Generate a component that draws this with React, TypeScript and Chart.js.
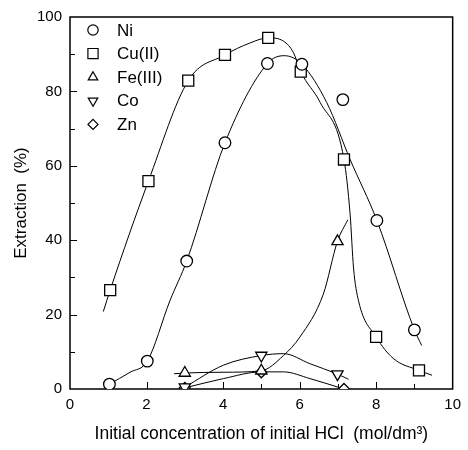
import React, { useEffect, useRef } from 'react';
import { Chart, registerables } from 'chart.js';
import { drawPoint } from 'chart.js/helpers';

Chart.register(...registerables);

const FONT = '"Liberation Sans", Arial, Helvetica, sans-serif';

// ---- data ----
const seriesNames = ['Ni', 'Cu(II)', 'Fe(III)', 'Co', 'Zn'];

const niX = [1.03, 2.02, 3.05, 4.05, 5.16, 6.06, 7.13, 8.02, 9.0];
const niY = [1.3, 7.5, 34.4, 66.2, 87.5, 87.3, 77.8, 45.3, 15.9];
const cuX = [1.05, 2.05, 3.09, 4.05, 5.18, 6.03, 7.16, 8.0, 9.12];
const cuY = [26.6, 55.9, 82.9, 89.8, 94.4, 85.3, 61.7, 14.0, 5.0];
const feX = [3.0, 5.0, 6.99];
const feY = [4.3, 4.9, 39.7];
const coX = [3.0, 5.0, 6.99];
const coY = [0.5, 9.0, 4.0];
const znX = [3.0, 5.0, 7.16];
const znY = [0.3, 4.5, 0.0];

// fitted curves
const niCurveX = [1.03, 1.57, 2.02, 2.61, 3.05, 4.05, 5.16, 5.6, 6.06, 6.71, 7.32, 8.02, 9.0, 9.19];
const niCurveY = [1.3, 4.5, 7.5, 23.7, 34.4, 66.2, 87.5, 89.6, 87.3, 77.0, 61.7, 45.3, 15.9, 11.7];
const cuCurveX = [0.87, 1.05, 2.05, 3.09, 4.05, 4.7, 5.18, 5.58, 5.84, 6.03, 6.54, 7.16, 7.32, 7.41, 7.54, 8.0, 8.45, 9.12, 9.46];
const cuCurveY = [20.8, 26.6, 55.9, 82.9, 89.8, 93.0, 94.4, 93.5, 90.4, 85.3, 77.0, 61.7, 47.0, 32.5, 23.7, 14.0, 8.2, 5.0, 3.7];
const feCurveX = [2.72, 3.0, 4.0, 5.0, 5.58, 6.01, 6.62, 6.99, 7.26];
const feCurveY = [4.1, 4.3, 4.5, 4.9, 9.0, 14.0, 25.5, 39.7, 45.5];
const coCurveX = [3.0, 4.01, 5.0, 5.58, 6.27, 6.99, 7.28];
const coCurveY = [0.5, 6.4, 9.0, 9.5, 6.8, 4.0, 2.6];
const znCurveX = [3.0, 4.01, 5.0, 5.58, 6.27, 7.16];
const znCurveY = [0.3, 2.8, 4.6, 4.6, 2.8, 0.0];

const xTickLabels = ['0', '2', '4', '6', '8', '10'];
const yTickLabels = ['0', '20', '40', '60', '80', '100'];

const xTitle = 'Initial concentration of initial HCl  (mol/dm\u00B3)';
const yTitle = 'Extraction  (%)';

const pts = (xs: number[], ys: number[]) => xs.map((x, i) => ({ x, y: ys[i] }));

const markerStyles = [
  { pointStyle: 'circle', radius: 5.8, rotation: 0 },
  { pointStyle: 'rect', radius: 7.8, rotation: 0 },
  { pointStyle: 'triangle', radius: 6.5, rotation: 0 },
  { pointStyle: 'triangle', radius: 6.5, rotation: 180 },
  { pointStyle: 'rectRot', radius: 5.5, rotation: 0 },
];
const legendStyles = [
  { pointStyle: 'circle', radius: 5.2, rotation: 0 },
  { pointStyle: 'rect', radius: 7.2, rotation: 0 },
  { pointStyle: 'triangle', radius: 5.5, rotation: 0 },
  { pointStyle: 'triangle', radius: 5.5, rotation: 180 },
  { pointStyle: 'rectRot', radius: 5, rotation: 0 },
];

const frameTicksPlugin = {
  id: 'frameTicks',
  beforeDatasetsDraw(chart: any) {
    const { ctx, chartArea, scales } = chart;
    const { left, right, top, bottom } = chartArea;
    ctx.save();
    ctx.strokeStyle = '#000';
    ctx.lineWidth = 1;
    ctx.beginPath();
    for (const t of scales.x.ticks) {
      if (t.value <= 0 || t.value >= 10) continue;
      const px = Math.round(scales.x.getPixelForValue(t.value)) + 0.5;
      const len = t.value % 2 === 0 ? 7 : 5;
      ctx.moveTo(px, bottom);
      ctx.lineTo(px, bottom - len);
    }
    for (const t of scales.y.ticks) {
      if (t.value <= 0 || t.value >= 100) continue;
      const py = Math.round(scales.y.getPixelForValue(t.value)) + 0.5;
      const len = t.value % 20 === 0 ? 7 : 5;
      ctx.moveTo(left, py);
      ctx.lineTo(left + len, py);
    }
    ctx.stroke();
    ctx.lineWidth = 1.5;
    ctx.strokeRect(left, top, right - left, bottom - top);
    ctx.restore();
  },
  afterDatasetsDraw(chart: any) {
    const { ctx, chartArea } = chart;
    ctx.save();
    seriesNames.forEach((name, i) => {
      const y = chartArea.top + 13 + i * 23.6;
      const st = legendStyles[i];
      ctx.fillStyle = '#fff';
      ctx.strokeStyle = '#000';
      ctx.lineWidth = 1.2;
      drawPoint(ctx, { pointStyle: st.pointStyle as any, rotation: st.rotation, radius: st.radius, borderWidth: 1.2 }, chartArea.left + 23, y);
      ctx.fillStyle = '#000';
      ctx.font = `17px ${FONT}`;
      ctx.textBaseline = 'middle';
      ctx.textAlign = 'left';
      ctx.fillText(name, chartArea.left + 47, y + 1);
    });
    ctx.restore();
  },
};

export default function App() {
  const ref = useRef<HTMLCanvasElement | null>(null);
  useEffect(() => {
    document.body.style.margin = '0';
    const canvas = ref.current;
    if (!canvas) return;
    const markerSets = [pts(niX, niY), pts(cuX, cuY), pts(feX, feY), pts(coX, coY), pts(znX, znY)];
    const curveSets = [
      pts(niCurveX, niCurveY),
      pts(cuCurveX, cuCurveY),
      pts(feCurveX, feCurveY),
      pts(coCurveX, coCurveY),
      pts(znCurveX, znCurveY),
    ];
    const datasets: any[] = [];
    markerSets.forEach((d, i) => {
      datasets.push({
        label: seriesNames[i],
        data: d,
        showLine: false,
        pointStyle: markerStyles[i].pointStyle,
        pointRotation: markerStyles[i].rotation,
        pointRadius: markerStyles[i].radius,
        pointBackgroundColor: '#fff',
        pointBorderColor: '#000',
        pointBorderWidth: 1.3,
        order: 0,
      });
    });
    curveSets.forEach((d, i) => {
      datasets.push({
        label: seriesNames[i] + ' fit',
        data: d,
        showLine: true,
        pointRadius: 0,
        borderColor: '#000',
        borderWidth: 1,
        cubicInterpolationMode: 'monotone',
        fill: false,
        order: 1,
      });
    });
    const chart = new Chart(canvas, {
      type: 'scatter',
      data: { datasets },
      options: {
        responsive: false,
        animation: false,
        layout: { padding: { left: 0, right: 15, top: 14, bottom: 0 } },
        plugins: { legend: { display: false }, tooltip: { enabled: false } },
        scales: {
          x: {
            type: 'linear',
            min: 0,
            max: 10,
            afterFit: (s: any) => { s.height = 61; },
            grid: { display: false, drawTicks: false },
            border: { display: false },
            ticks: {
              stepSize: 1,
              autoSkip: false,
              maxRotation: 0,
              padding: 7,
              color: '#000',
              font: { family: FONT, size: 15 },
              callback: (v: any) => (xTickLabels.includes(String(v)) ? String(v) : ''),
            },
            title: {
              display: true,
              text: xTitle,
              color: '#000',
              font: { family: FONT, size: 17.5 },
              padding: { top: 0, bottom: 5 },
            },
          },
          y: {
            type: 'linear',
            min: 0,
            max: 100,
            afterFit: (s: any) => { s.width = 70; },
            grid: { display: false, drawTicks: false },
            border: { display: false },
            ticks: {
              stepSize: 10,
              autoSkip: false,
              padding: 8,
              color: '#000',
              font: { family: FONT, size: 15 },
              callback: (v: any) => (yTickLabels.includes(String(v)) ? String(v) : ''),
            },
            title: {
              display: true,
              text: yTitle,
              color: '#000',
              font: { family: FONT, size: 17 },
              padding: { top: 11, bottom: 0 },
            },
          },
        },
      },
      plugins: [frameTicksPlugin],
    });
    return () => chart.destroy();
  }, []);
  return (
    <div style={{ width: 468, height: 450 }}>
      <canvas ref={ref} width={468} height={450} />
    </div>
  );
}
